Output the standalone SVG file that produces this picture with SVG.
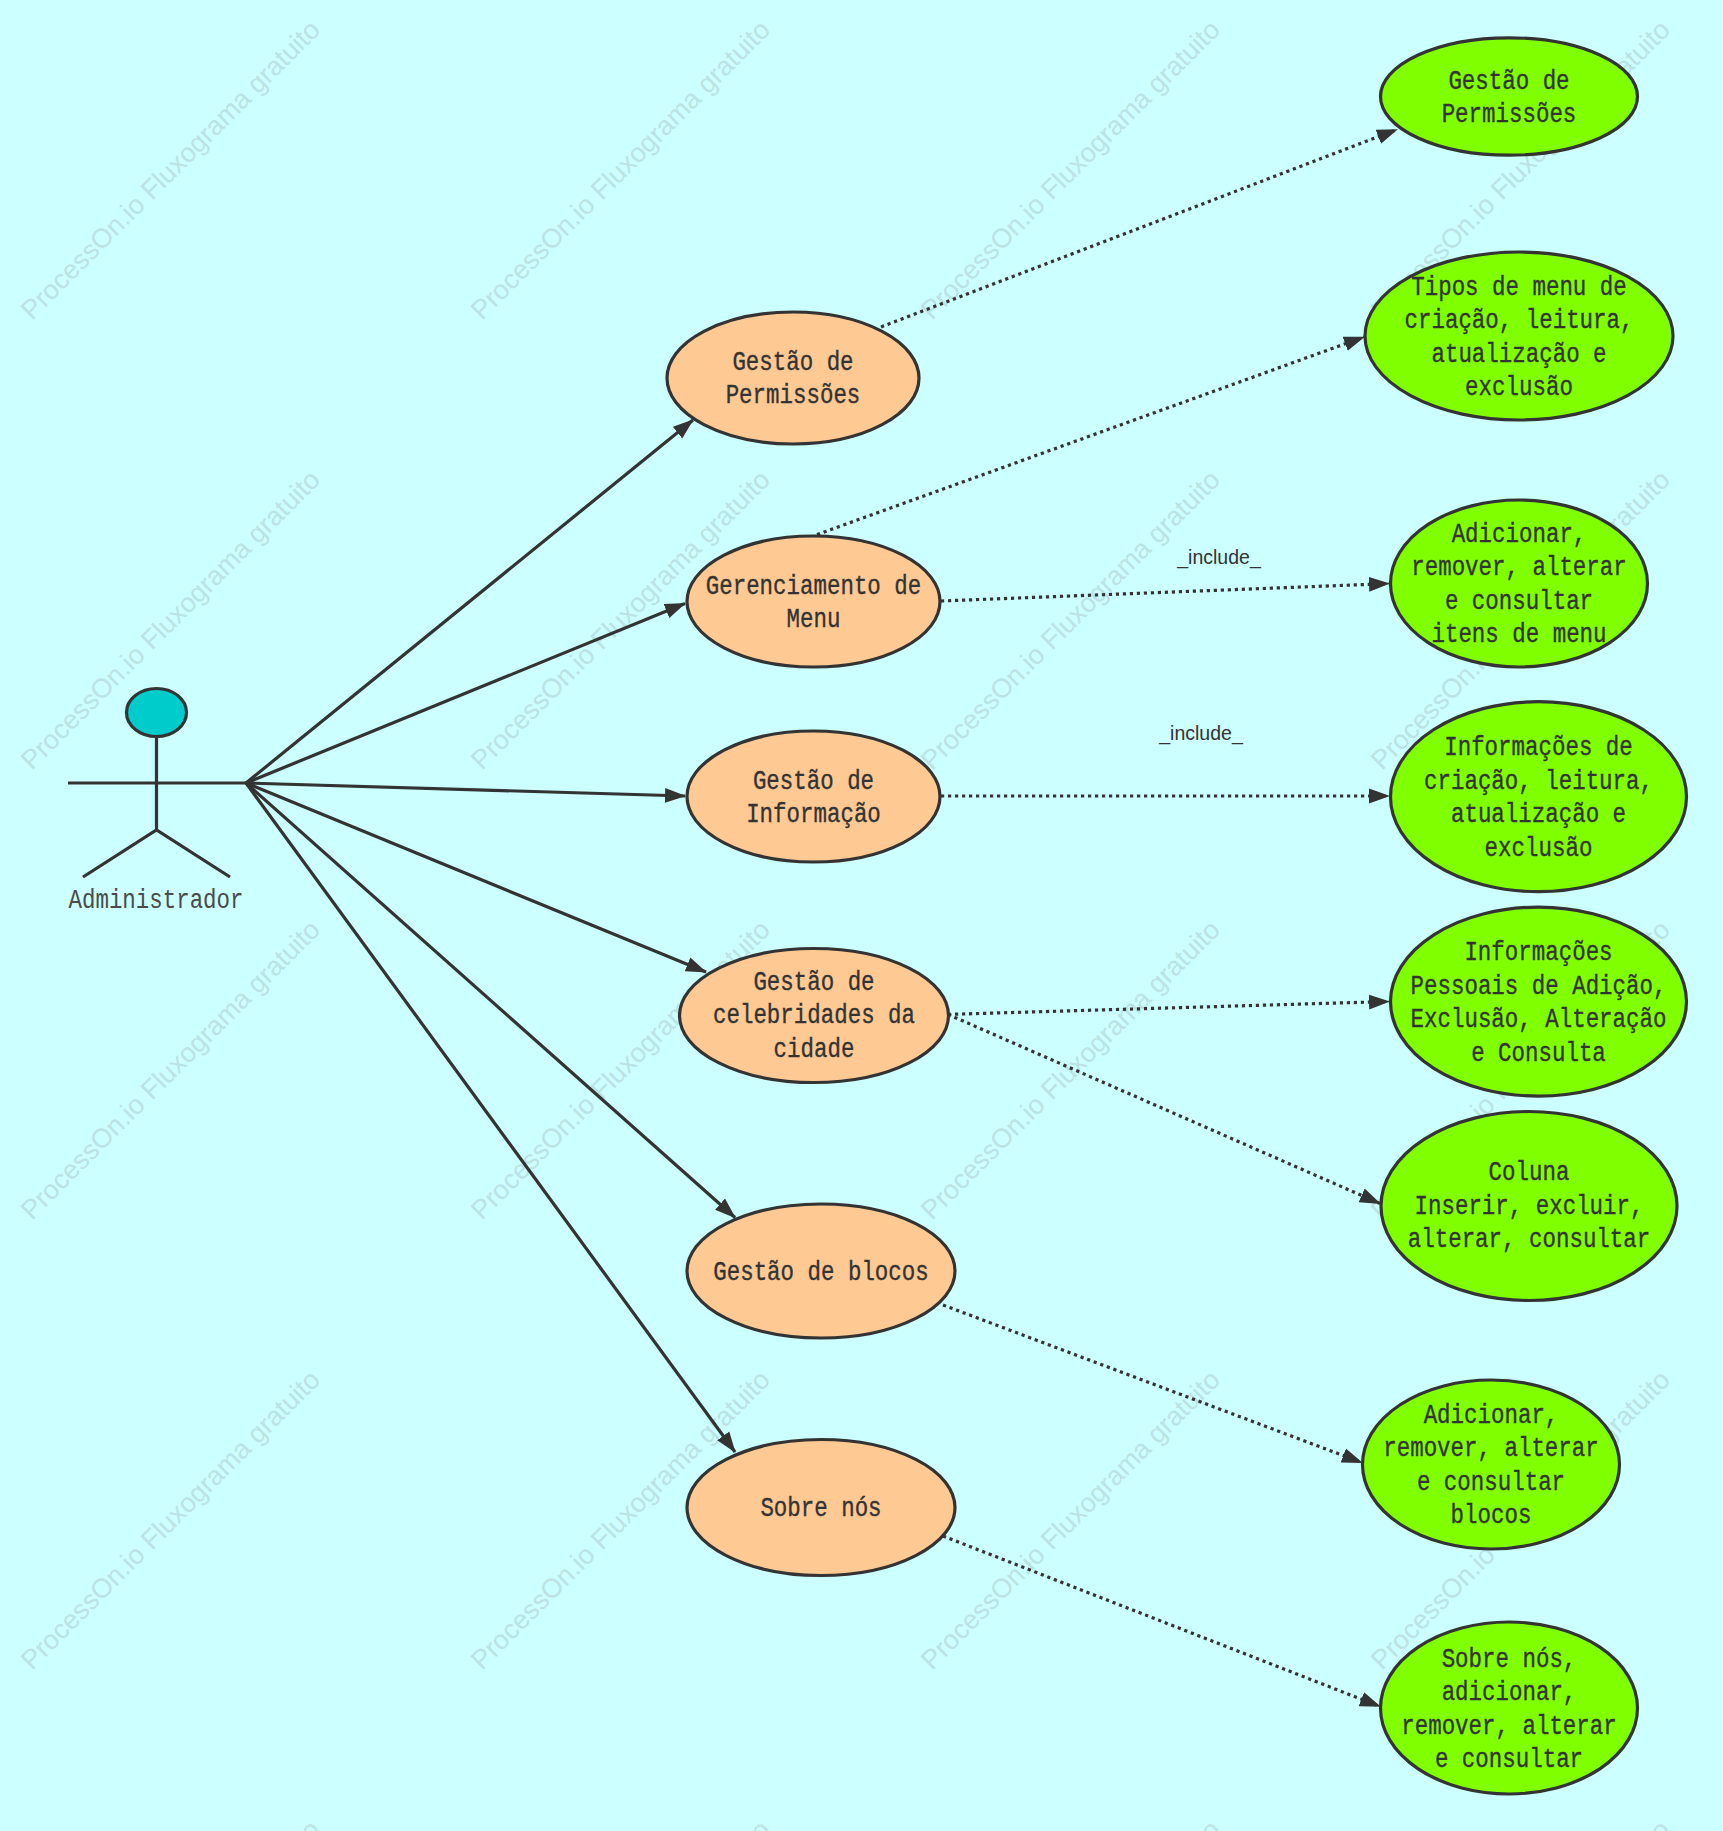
<svg xmlns="http://www.w3.org/2000/svg" width="1723" height="1831" viewBox="0 0 1723 1831">
<style>
.wm{font-family:"Liberation Sans",Arial,sans-serif;font-size:27px;fill:#b9e3e5}
.o{fill:#ffc994;stroke:#333;stroke-width:3.2}
.g{fill:#80ff00;stroke:#333;stroke-width:3.2}
.t{font-family:"Liberation Mono",monospace;font-size:27px;fill:#333;text-anchor:middle;stroke:#333;stroke-width:.35}
.a{font-family:"Liberation Mono",monospace;font-size:27px;fill:#4a4a4a;text-anchor:middle}
.s{fill:none;stroke:#333;stroke-width:3.2;marker-end:url(#a)}
.d{fill:none;stroke:#333;stroke-width:3.2;stroke-dasharray:3.2 3.8;marker-end:url(#a)}
.l{font-family:"Liberation Sans",Arial,sans-serif;font-size:19.5px;fill:#333;text-anchor:middle}
.b{fill:none;stroke:#333;stroke-width:3.2}
</style>
<defs>
<marker id="a" markerUnits="userSpaceOnUse" markerWidth="22" markerHeight="16" refX="20" refY="8" orient="auto"><path d="M0 0.5L21 8L0 15.5z" fill="#333"/></marker>
<text id="w" class="wm" transform="translate(32 321) rotate(-45)">ProcessOn.io Fluxograma gratuito</text>
</defs>
<rect id="background" width="1723" height="1831" fill="#ccffff"/>
<g id="watermark">
<use href="#w"/><use href="#w" x="450"/><use href="#w" x="900"/><use href="#w" x="1350"/>
<use href="#w" y="450"/><use href="#w" x="450" y="450"/><use href="#w" x="900" y="450"/><use href="#w" x="1350" y="450"/>
<use href="#w" y="900"/><use href="#w" x="450" y="900"/><use href="#w" x="900" y="900"/><use href="#w" x="1350" y="900"/>
<use href="#w" y="1350"/><use href="#w" x="450" y="1350"/><use href="#w" x="900" y="1350"/><use href="#w" x="1350" y="1350"/>
<use href="#w" y="1800"/><use href="#w" x="450" y="1800"/><use href="#w" x="900" y="1800"/><use href="#w" x="1350" y="1800"/>
</g>
<g id="connectors">
<path class="s" d="M246 783L693 420"/>
<path class="s" d="M246 783L685 603.5"/>
<path class="s" d="M246 783L685 796"/>
<path class="s" d="M246 783L706 972"/>
<path class="s" d="M246 783L735 1217.5"/>
<path class="s" d="M246 783L735 1452"/>
<path class="d" d="M881 327L1397 129.5"/>
<path class="d" d="M817 534.6L1364 337"/>
<path class="d" d="M941 601L1389 583.6"/>
<path class="d" d="M941 796L1389 796"/>
<path class="d" d="M948 1014.4L1389 1001.5"/>
<path class="d" d="M948 1014.4L1380 1203.5"/>
<path class="d" d="M943 1305L1362 1462.6"/>
<path class="d" d="M943 1536L1380 1706.5"/>
<text class="l" x="1219" y="563.5">_include_</text>
<text class="l" x="1201" y="739.5">_include_</text>
</g>
<g id="actor">
<ellipse cx="156.5" cy="712.5" rx="30" ry="24" fill="#00cccc" stroke="#333" stroke-width="3.2"/>
<path class="b" d="M156.5 736V830M68 783H246M83 877L156.5 830L230 877"/>
<text class="a" x="156" y="908" textLength="175" lengthAdjust="spacingAndGlyphs">Administrador</text>
</g>
<g id="o1"><ellipse class="o" cx="793" cy="378" rx="126" ry="66"/><text class="t" x="793" y="369.5" textLength="121.2" lengthAdjust="spacingAndGlyphs">Gestão de</text><text class="t" x="793" y="403" textLength="134.7" lengthAdjust="spacingAndGlyphs">Permissões</text></g>
<g id="o2"><ellipse class="o" cx="813.5" cy="601.5" rx="126.5" ry="65.5"/><text class="t" x="813.5" y="593.5" textLength="215.5" lengthAdjust="spacingAndGlyphs">Gerenciamento de</text><text class="t" x="813.5" y="627" textLength="53.9" lengthAdjust="spacingAndGlyphs">Menu</text></g>
<g id="o3"><ellipse class="o" cx="813.5" cy="796.5" rx="126.5" ry="65.5"/><text class="t" x="813.5" y="788.5" textLength="121.2" lengthAdjust="spacingAndGlyphs">Gestão de</text><text class="t" x="813.5" y="822" textLength="134.7" lengthAdjust="spacingAndGlyphs">Informação</text></g>
<g id="o4"><ellipse class="o" cx="814" cy="1015.5" rx="134.5" ry="67"/><text class="t" x="814" y="989.5" textLength="121.2" lengthAdjust="spacingAndGlyphs">Gestão de</text><text class="t" x="814" y="1023" textLength="202" lengthAdjust="spacingAndGlyphs">celebridades da</text><text class="t" x="814" y="1056.5" textLength="80.8" lengthAdjust="spacingAndGlyphs">cidade</text></g>
<g id="o5"><ellipse class="o" cx="821" cy="1271" rx="134" ry="67"/><text class="t" x="821" y="1279.5" textLength="215.5" lengthAdjust="spacingAndGlyphs">Gestão de blocos</text></g>
<g id="o6"><ellipse class="o" cx="821" cy="1507.5" rx="134" ry="68"/><text class="t" x="821" y="1515.5" textLength="121.2" lengthAdjust="spacingAndGlyphs">Sobre nós</text></g>
<g id="g1"><ellipse class="g" cx="1509" cy="96.5" rx="128.5" ry="58.7"/><text class="t" x="1509" y="88.5" textLength="121.2" lengthAdjust="spacingAndGlyphs">Gestão de</text><text class="t" x="1509" y="122" textLength="134.7" lengthAdjust="spacingAndGlyphs">Permissões</text></g>
<g id="g2"><ellipse class="g" cx="1519" cy="336" rx="154" ry="84"/><text class="t" x="1519" y="294.5" textLength="215.5" lengthAdjust="spacingAndGlyphs">Tipos de menu de</text><text class="t" x="1519" y="328" textLength="229" lengthAdjust="spacingAndGlyphs">criação, leitura,</text><text class="t" x="1519" y="361.5" textLength="175.1" lengthAdjust="spacingAndGlyphs">atualização e</text><text class="t" x="1519" y="395" textLength="107.8" lengthAdjust="spacingAndGlyphs">exclusão</text></g>
<g id="g3"><ellipse class="g" cx="1519" cy="583.5" rx="128.5" ry="83.5"/><text class="t" x="1519" y="541.5" textLength="134.7" lengthAdjust="spacingAndGlyphs">Adicionar,</text><text class="t" x="1519" y="575" textLength="215.5" lengthAdjust="spacingAndGlyphs">remover, alterar</text><text class="t" x="1519" y="608.5" textLength="148.2" lengthAdjust="spacingAndGlyphs">e consultar</text><text class="t" x="1519" y="642" textLength="175.1" lengthAdjust="spacingAndGlyphs">itens de menu</text></g>
<g id="g4"><ellipse class="g" cx="1538.5" cy="796.7" rx="148" ry="95"/><text class="t" x="1538.5" y="754.5" textLength="188.6" lengthAdjust="spacingAndGlyphs">Informações de</text><text class="t" x="1538.5" y="788.5" textLength="229" lengthAdjust="spacingAndGlyphs">criação, leitura,</text><text class="t" x="1538.5" y="822" textLength="175.1" lengthAdjust="spacingAndGlyphs">atualização e</text><text class="t" x="1538.5" y="855.5" textLength="107.8" lengthAdjust="spacingAndGlyphs">exclusão</text></g>
<g id="g5"><ellipse class="g" cx="1538.5" cy="1001.6" rx="148" ry="94.5"/><text class="t" x="1538.5" y="959.5" textLength="148.2" lengthAdjust="spacingAndGlyphs">Informações</text><text class="t" x="1538.5" y="993.5" textLength="255.9" lengthAdjust="spacingAndGlyphs">Pessoais de Adição,</text><text class="t" x="1538.5" y="1027" textLength="255.9" lengthAdjust="spacingAndGlyphs">Exclusão, Alteração</text><text class="t" x="1538.5" y="1060.5" textLength="134.7" lengthAdjust="spacingAndGlyphs">e Consulta</text></g>
<g id="g6"><ellipse class="g" cx="1529" cy="1206" rx="148" ry="94.5"/><text class="t" x="1529" y="1179.5" textLength="80.8" lengthAdjust="spacingAndGlyphs">Coluna</text><text class="t" x="1529" y="1213.5" textLength="229" lengthAdjust="spacingAndGlyphs">Inserir, excluir,</text><text class="t" x="1529" y="1247" textLength="242.5" lengthAdjust="spacingAndGlyphs">alterar, consultar</text></g>
<g id="g7"><ellipse class="g" cx="1491" cy="1464.5" rx="128.5" ry="84.5"/><text class="t" x="1491" y="1422.5" textLength="134.7" lengthAdjust="spacingAndGlyphs">Adicionar,</text><text class="t" x="1491" y="1456" textLength="215.5" lengthAdjust="spacingAndGlyphs">remover, alterar</text><text class="t" x="1491" y="1489.5" textLength="148.2" lengthAdjust="spacingAndGlyphs">e consultar</text><text class="t" x="1491" y="1523" textLength="80.8" lengthAdjust="spacingAndGlyphs">blocos</text></g>
<g id="g8"><ellipse class="g" cx="1509" cy="1708" rx="128.5" ry="86"/><text class="t" x="1509" y="1666.5" textLength="134.7" lengthAdjust="spacingAndGlyphs">Sobre nós,</text><text class="t" x="1509" y="1700" textLength="134.7" lengthAdjust="spacingAndGlyphs">adicionar,</text><text class="t" x="1509" y="1733.5" textLength="215.5" lengthAdjust="spacingAndGlyphs">remover, alterar</text><text class="t" x="1509" y="1767" textLength="148.2" lengthAdjust="spacingAndGlyphs">e consultar</text></g>
</svg>
